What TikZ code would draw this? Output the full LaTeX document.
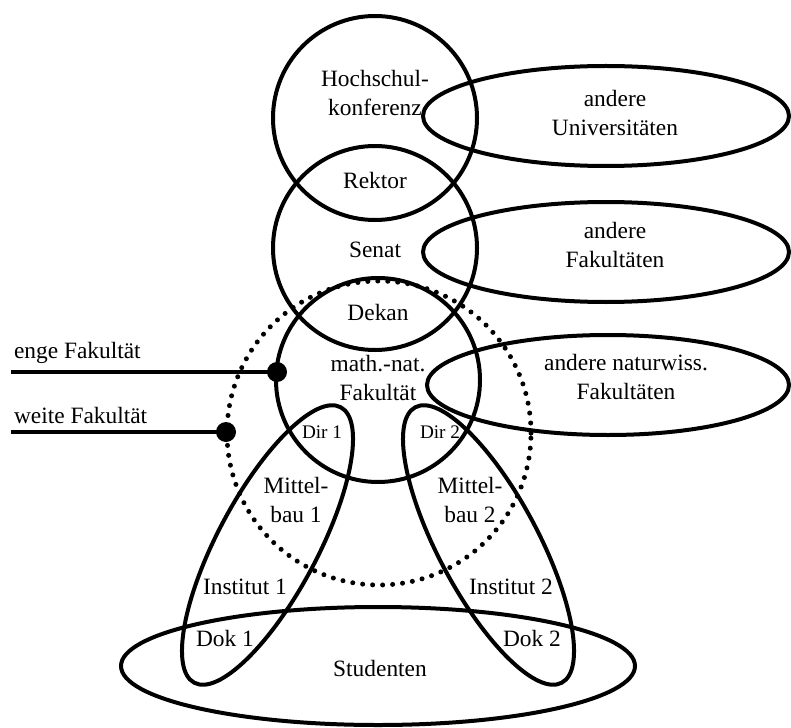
\documentclass[tikz,border=0pt]{standalone}
\usepackage{fontspec}
\setmainfont{Liberation Serif}

\begin{document}
\begin{tikzpicture}[x=0.5pt, y=-0.5pt, line width=2pt,
    lbl/.style={align=center, inner sep=0pt, font=\fontsize{11.7}{14.5}\selectfont},
    dirlbl/.style={inner sep=0pt, font=\fontsize{9.6}{11}\selectfont},
    dot/.style={circle, fill=black, inner sep=0pt, minimum size=10pt}]
    \useasboundingbox (0,0) rectangle (791,727);
    \draw (375,118) circle [radius=51pt];
    \draw (375,248) circle [radius=51pt];
    \draw (378,380) circle [radius=51pt];
    \draw [line cap=round, line width=2.5pt, dash pattern=on 0pt off 5pt] (379,433) circle [radius=76pt];
    \draw (606,116) ellipse [x radius=91.5pt, y radius=25pt];
    \draw (606,252) ellipse [x radius=91.5pt, y radius=25pt];
    \draw (608,385) ellipse [x radius=90.5pt, y radius=25pt];
    \draw (378,666) ellipse [x radius=128.5pt, y radius=29.5pt];
    \draw (267.5,545) ellipse [x radius=78pt, y radius=25pt, rotate=62];
    \draw (488.5,545) ellipse [x radius=78pt, y radius=25pt, rotate=118];
    \node [lbl] (hochschul) at (375,93) {Hochschul-\\konferenz};
    \node [lbl] (rektor) at (375,180) {Rektor};
    \node [lbl] (senat) at (375,250) {Senat};
    \node [lbl] (dekan) at (378,312) {Dekan};
    \node [lbl] (fakultaet) at (378,378) {math.-nat.\\Fakultät};
    \node [lbl] (unis) at (615,113) {andere\\Universitäten};
    \node [lbl] (fakultaeten) at (615,245) {andere\\Fakultäten};
    \node [lbl] (naturwiss) at (626,377) {andere naturwiss.\\Fakultäten};
    \node [dirlbl] (dir1) at (322,432) {Dir 1};
    \node [dirlbl] (dir2) at (440,432) {Dir 2};
    \node [lbl] (mittelbau1) at (296,500) {Mittel-\\bau 1};
    \node [lbl] (mittelbau2) at (470,500) {Mittel-\\bau 2};
    \node [lbl] (institut1) at (245,587) {Institut 1};
    \node [lbl] (institut2) at (511,587) {Institut 2};
    \node [lbl] (dok1) at (225,638) {Dok 1};
    \node [lbl] (dok2) at (532,638) {Dok 2};
    \node [lbl] (studenten) at (380,668) {Studenten};
    \node [lbl, anchor=west] (enge) at (12,353) {enge Fakultät};
    \node [lbl, anchor=west] (weite) at (12,415) {weite Fakultät};
    \coordinate (engeStart) at (11,372);
    \coordinate (weiteStart) at (11,432);
    \node [dot] (engeDot) at (277,372) {};
    \node [dot] (weiteDot) at (226,432) {};
    \draw (engeStart) -- (engeDot.center);
    \draw (weiteStart) -- (weiteDot.center);
\end{tikzpicture}
\end{document}
